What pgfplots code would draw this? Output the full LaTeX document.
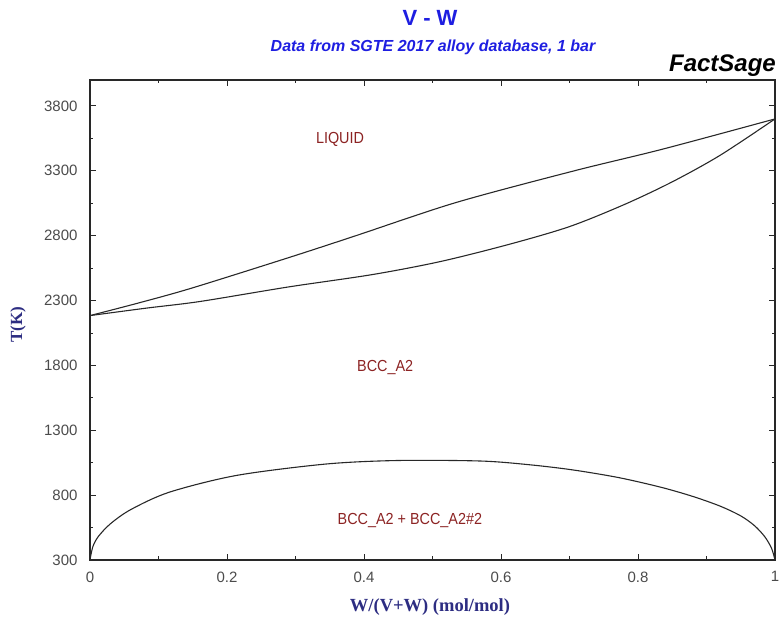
\documentclass[border=0pt]{standalone}
\usepackage{fontspec}
\setmainfont{Liberation Sans}
\newfontfamily\serifb{Liberation Serif}
\usepackage{pgfplots}
\pgfplotsset{compat=1.18}
\definecolor{titleblue}{RGB}{30,30,225}
\definecolor{labnavy}{RGB}{45,45,130}
\definecolor{phasered}{RGB}{140,35,35}
\definecolor{tickgray}{RGB}{75,75,75}
\definecolor{curve}{RGB}{40,40,40}
\newcommand{\phase}[1]{\scalebox{0.9}[1]{#1}}
\begin{document}
\begin{tikzpicture}[x=1pt,y=1pt]
\path[use as bounding box] (-90,-61) rectangle (690,560);
\begin{axis}[at={(0,0)}, anchor=south west, scale only axis,
  width=685pt, height=480pt,
  xmin=0, xmax=1, ymin=300, ymax=4000,
  xtick={0,0.2,0.4,0.6,0.8,1},
  ytick={300,800,1300,1800,2300,2800,3300,3800},
  minor x tick num=1, minor y tick num=1,
  tick align=inside, major tick length=6pt, minor tick length=3.5pt,
  axis line style={draw=curve, line width=1.2pt},
  tick style={draw=curve, line width=0.9pt},
  /pgf/number format/assume math mode=true,
  /pgf/number format/1000 sep={},
  ticklabel style={font=\fontsize{15}{15}\selectfont, text=tickgray},
  yticklabel style={xshift=-9pt},
  xticklabel style={yshift=-8pt},
  clip=true,
]
% liquidus
\addplot[curve, line width=1.1pt, smooth] coordinates {
(0,2184) (0.070,2280) (0.148,2395) (0.289,2629) (0.386,2796) (0.534,3055) (0.707,3300) (0.836,3467) (1,3700)};
% solidus
\addplot[curve, line width=1.1pt, smooth] coordinates {
(0,2184) (0.083,2242) (0.161,2293) (0.290,2405) (0.412,2500) (0.511,2600) (0.611,2732) (0.700,2870) (0.780,3040) (0.850,3215) (0.920,3420) (1,3700)};
% miscibility gap
\addplot[curve, line width=1.1pt, smooth] coordinates {
(0,300) (0.004,400) (0.012,480) (0.030,580) (0.060,690) (0.116,823) (0.214,952) (0.345,1040) (0.450,1067) (0.570,1063) (0.640,1035) (0.704,995) (0.772,935) (0.834,860) (0.880,790) (0.920,715) (0.950,640) (0.970,565) (0.985,480) (0.995,390) (1,300)};
\node[text=phasered, font=\fontsize{16}{16}\selectfont] at (axis cs:0.365,3545) {\phase{LIQUID}};
\node[text=phasered, font=\fontsize{16}{16}\selectfont] at (axis cs:0.431,1780) {\phase{BCC\_A2}};
\node[text=phasered, font=\fontsize{16}{16}\selectfont] at (axis cs:0.467,603) {\phase{BCC\_A2 + BCC\_A2\#2}};
\end{axis}
\node[text=titleblue, font=\fontsize{22}{22}\selectfont\bfseries] at (340,542) {V - W};
\node[text=titleblue, font=\fontsize{16}{16}\selectfont\bfseries\itshape] at (343,513) {Data from SGTE 2017 alloy database, 1 bar};
\node[anchor=east, inner sep=0pt, font=\fontsize{24}{24}\selectfont\bfseries\itshape] at (686,494) {FactSage};
\node[text=labnavy, font=\serifb\fontsize{18.5}{18.5}\selectfont\bfseries] at (340,-47) {W/(V+W) (mol/mol)};
\node[text=labnavy, rotate=90, font=\serifb\fontsize{17}{17}\selectfont\bfseries] at (-72,235) {T(K)};
\end{tikzpicture}
\end{document}
